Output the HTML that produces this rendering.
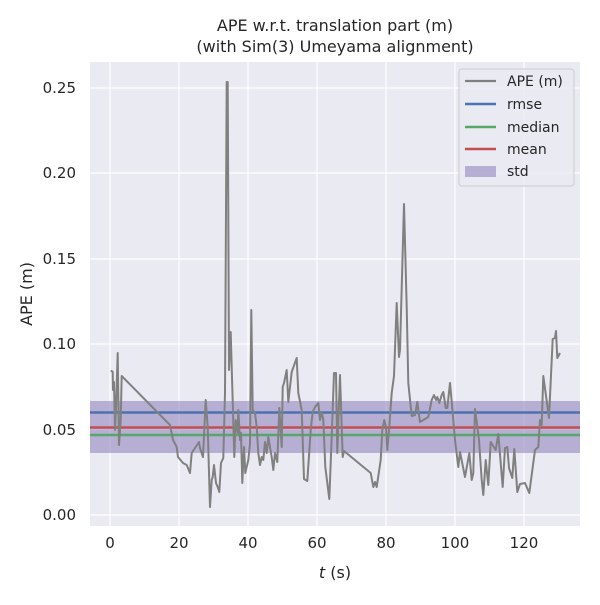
<!DOCTYPE html>
<html><head><meta charset="utf-8"><style>body{margin:0;background:#fff}</style></head><body>
<svg width="600" height="600" xmlns="http://www.w3.org/2000/svg" font-family="DejaVu Sans, Liberation Sans, sans-serif">
<rect width="600" height="600" fill="#fff"/>
<rect x="90" y="62" width="490" height="464" fill="#eaeaf2"/>
<g stroke="#fff" stroke-width="1.2">
<line x1="110" y1="62" x2="110" y2="526"/><line x1="179" y1="62" x2="179" y2="526"/><line x1="248" y1="62" x2="248" y2="526"/><line x1="317" y1="62" x2="317" y2="526"/><line x1="386" y1="62" x2="386" y2="526"/><line x1="455" y1="62" x2="455" y2="526"/><line x1="524" y1="62" x2="524" y2="526"/>
<line x1="90" y1="515" x2="580" y2="515"/><line x1="90" y1="429.6" x2="580" y2="429.6"/><line x1="90" y1="344" x2="580" y2="344"/><line x1="90" y1="259" x2="580" y2="259"/><line x1="90" y1="173" x2="580" y2="173"/><line x1="90" y1="88" x2="580" y2="88"/>
</g>
<rect x="90" y="401" width="490" height="52" fill="#8172b3" fill-opacity="0.5"/>
<line x1="90" y1="412.5" x2="580" y2="412.5" stroke="#4c72b0" stroke-width="2.6"/>
<line x1="90" y1="427.5" x2="580" y2="427.5" stroke="#c44e52" stroke-width="2.6"/>
<line x1="90" y1="435" x2="580" y2="435" stroke="#55a868" stroke-width="2.6"/>
<polyline fill="none" stroke="#808080" stroke-width="2" stroke-linejoin="round" points="110.7,370.7 112.7,371.7 113,390 114,382 115,430 116,407 117.7,353 119,445 120.7,420 121.7,376 170,425 173,440 176.7,447 178,457 183,463 186.7,465 190,473 191.7,453 199,442 200,448 203,457 205.7,400 207.7,427 210,507 211.7,480 212.7,477 214,465 216,483 217.7,487 219.3,492 221,463 223.3,458 225,393 226.7,82 227.7,82 229,370 230.7,332 231.7,367 234.3,457 235.7,420 237.7,433 238.3,410 240,440 241,433 242.3,483 244,447 245.3,473 248.3,460 250,443 251.3,310 252.7,410 255,413 256.7,427 258.3,453 260,465 261.7,457 263.3,460 265,442 266.7,453 268.3,437 271.7,457 273.3,470 275,453 277.3,462 279.3,408 281.7,447 282.7,387 284,383 286.7,370 288.3,402 291.7,372 296.7,358 298.3,393 301.7,410 304,479 307.3,481 310.7,430 312.7,412 315,407 318.3,403 320,420 321.7,412 323.3,420 325.3,467 329.3,499 331.7,437 334,373 336,373 337.3,453 340,375 342.7,457 344,451 370.7,473 373.3,487 375,482 376.7,487 380.7,460 382.3,430 384.3,420 386,427 387.3,450 389.3,427 391.7,393 394,376 396.7,303 399,357 400,350 404,204 406.7,307 408.3,383 411.7,416 415,415 417.3,402 420,422 428.3,417 431.7,400 434,395 436,400 437.3,397 439.3,403 441.7,395 443.3,392 445.7,408 447.3,408 450,383 452.7,413 455,440 458.3,467 460,452 465,477 469.3,453 471.7,480 473.3,473 475,409 479,440 481.7,480 483.3,495 485.7,460 488.3,485 490.7,442 495.7,450 498.3,434 502.7,487 505,448 507.3,447 509,468 512.3,478 514.3,449 517.3,492 520,484 525,483 529.3,493 535,450 538.3,447 540,420 541.7,425 543.3,376 549,418 552.7,339 555,338 556,331 557.3,358 560,353"/>
<g font-size="15" fill="#262626" text-anchor="middle">
<text x="110" y="548">0</text><text x="179" y="548">20</text><text x="248" y="548">40</text><text x="317" y="548">60</text><text x="386" y="548">80</text><text x="455" y="548">100</text><text x="524" y="548">120</text>
</g>
<g font-size="15" fill="#262626" text-anchor="end">
<text x="76" y="520">0.00</text><text x="76" y="435">0.05</text><text x="76" y="349">0.10</text><text x="76" y="264">0.15</text><text x="76" y="178">0.20</text><text x="76" y="93">0.25</text>
</g>
<text x="335" y="578" font-size="16" fill="#262626" text-anchor="middle"><tspan font-style="italic">t</tspan> (s)</text>
<text transform="translate(32,294) rotate(-90)" font-size="16" fill="#262626" text-anchor="middle">APE (m)</text>
<text x="335" y="31" font-size="16" fill="#262626" text-anchor="middle">APE w.r.t. translation part (m)</text>
<text x="335" y="52" font-size="16" fill="#262626" text-anchor="middle">(with Sim(3) Umeyama alignment)</text>
<rect x="459" y="69" width="115" height="117" rx="3" fill="#eaeaf2" fill-opacity="0.8" stroke="#cccccc"/>
<line x1="465" y1="81" x2="496" y2="81" stroke="#808080" stroke-width="2.2"/>
<line x1="465" y1="104" x2="496" y2="104" stroke="#4c72b0" stroke-width="2.6"/>
<line x1="465" y1="127" x2="496" y2="127" stroke="#55a868" stroke-width="2.6"/>
<line x1="465" y1="149" x2="496" y2="149" stroke="#c44e52" stroke-width="2.6"/>
<rect x="465" y="166" width="31" height="11" fill="#8172b3" fill-opacity="0.5"/>
<g font-size="14" fill="#262626">
<text x="507" y="86">APE (m)</text><text x="507" y="109">rmse</text><text x="507" y="132">median</text><text x="507" y="154">mean</text><text x="507" y="176">std</text>
</g>
</svg>
</body></html>
